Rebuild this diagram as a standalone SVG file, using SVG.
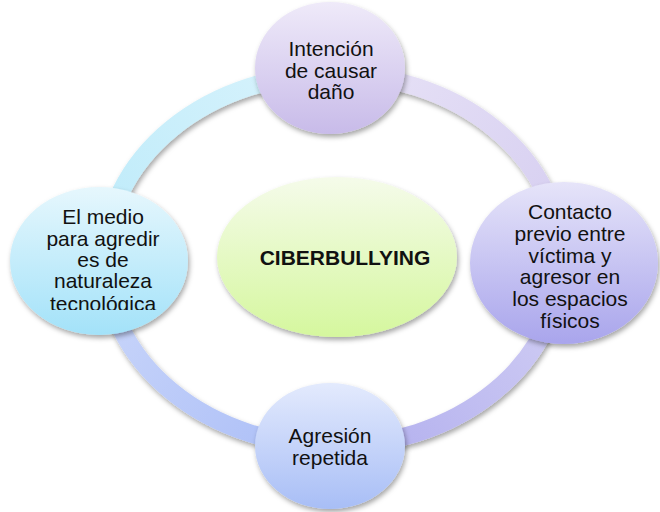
<svg xmlns="http://www.w3.org/2000/svg" width="660" height="512" viewBox="0 0 660 512">
<style>
.t{font-family:"Liberation Sans",Arial,sans-serif;font-size:21px;fill:#111;text-anchor:middle}
.b{font-weight:bold}
.ring{fill:none;stroke-width:18}
</style>
<defs>
<filter id="sh" x="-20%" y="-20%" width="140%" height="150%">
<feDropShadow dx="1.5" dy="3" stdDeviation="2.5" flood-color="#000" flood-opacity="0.35"/>
</filter>
<linearGradient id="gTop" x1="0" y1="0" x2="0" y2="1"><stop offset="0" stop-color="#efeaf9"/><stop offset="1" stop-color="#c8bbe9"/></linearGradient>
<linearGradient id="gRight" x1="0" y1="0" x2="0" y2="1"><stop offset="0" stop-color="#e6e4f9"/><stop offset="1" stop-color="#a9a5ec"/></linearGradient>
<linearGradient id="gLeft" x1="0" y1="0" x2="0" y2="1"><stop offset="0" stop-color="#e6f7fd"/><stop offset="1" stop-color="#a3e2f9"/></linearGradient>
<linearGradient id="gBottom" x1="0" y1="0" x2="0" y2="1"><stop offset="0" stop-color="#e3eafd"/><stop offset="1" stop-color="#a8bef6"/></linearGradient>
<linearGradient id="gCenter" x1="0" y1="0" x2="0" y2="1"><stop offset="0" stop-color="#f5fbea"/><stop offset="1" stop-color="#d5f79e"/></linearGradient>
<linearGradient id="rTL" gradientUnits="userSpaceOnUse" x1="105" y1="260" x2="333" y2="74"><stop offset="0" stop-color="#bdebfa"/><stop offset="1" stop-color="#d9f3fc"/></linearGradient>
<linearGradient id="rTR" gradientUnits="userSpaceOnUse" x1="333" y1="74" x2="561" y2="260"><stop offset="0" stop-color="#e8e3f7"/><stop offset="1" stop-color="#d5cdf0"/></linearGradient>
<linearGradient id="rBR" gradientUnits="userSpaceOnUse" x1="561" y1="260" x2="333" y2="446"><stop offset="0" stop-color="#d3d0f4"/><stop offset="1" stop-color="#b0adee"/></linearGradient>
<linearGradient id="rBL" gradientUnits="userSpaceOnUse" x1="105" y1="260" x2="333" y2="446"><stop offset="0" stop-color="#cbd7fa"/><stop offset="1" stop-color="#aabdf7"/></linearGradient>
<clipPath id="clipL"><rect x="0" y="180" width="200" height="130"/></clipPath>
</defs>
<g id="connectors" filter="url(#sh)">
<path class="ring" stroke="url(#rTL)" d="M105,260 A228,186 0 0 1 333,74"/>
<path class="ring" stroke="url(#rTR)" d="M333,74 A228,186 0 0 1 561,260"/>
<path class="ring" stroke="url(#rBR)" d="M561,260 A228,186 0 0 1 333,446"/>
<path class="ring" stroke="url(#rBL)" d="M333,446 A228,186 0 0 1 105,260"/>
</g>
<g id="center">
<ellipse cx="337" cy="257" rx="120" ry="80" fill="url(#gCenter)" filter="url(#sh)"/>
<text class="t b" x="345" y="265">CIBERBULLYING</text>
</g>
<g id="top">
<ellipse cx="330" cy="68" rx="75" ry="66" fill="url(#gTop)" filter="url(#sh)"/>
<text class="t" x="331" y="56">Intención</text>
<text class="t" x="331" y="78">de causar</text>
<text class="t" x="331" y="99">daño</text>
</g>
<g id="right">
<ellipse cx="564" cy="263" rx="94" ry="81" fill="url(#gRight)" filter="url(#sh)"/>
<text class="t" x="570" y="219">Contacto</text>
<text class="t" x="570" y="241">previo entre</text>
<text class="t" x="570" y="263">víctima y</text>
<text class="t" x="570" y="284">agresor en</text>
<text class="t" x="570" y="306">los espacios</text>
<text class="t" x="570" y="328">físicos</text>
</g>
<g id="left">
<ellipse cx="99" cy="261" rx="89" ry="74" fill="url(#gLeft)" filter="url(#sh)"/>
<g clip-path="url(#clipL)">
<text class="t" x="103" y="224">El medio</text>
<text class="t" x="103" y="246">para agredir</text>
<text class="t" x="103" y="267">es de</text>
<text class="t" x="103" y="288">naturaleza</text>
<text class="t" x="103" y="311">tecnológica</text>
</g>
</g>
<g id="bottom">
<ellipse cx="330" cy="446" rx="75" ry="63" fill="url(#gBottom)" filter="url(#sh)"/>
<text class="t" x="330" y="443">Agresión</text>
<text class="t" x="330" y="465">repetida</text>
</g>
</svg>
